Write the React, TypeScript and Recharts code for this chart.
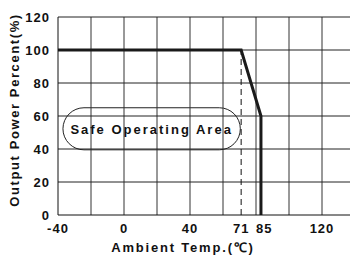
import {
  LineChart,
  Line,
  XAxis,
  YAxis,
  ReferenceLine,
  ReferenceArea,
  Label,
} from "recharts"

// derating curve: ambient temp (°C) vs output power (%)
const temps = [-40, 71, 83, 83]
const power = [100, 100, 60, 0]
const xTicks = [-40, 0, 40, 71, 85, 120]
const yTicks = [0, 20, 40, 60, 80, 100, 120]
const gridX = [-20, 0, 20, 40, 60, 80, 100, 120, 140]
const gridY = [20, 40, 60, 80, 100, 120]
const safeArea = { x1: -37, x2: 70.5, y1: 39.5, y2: 65 }
const safeLabel = "Safe Operating Area"
const xTitle = "Ambient Temp.(℃)"
const yTitle = "Output Power Percent(%)"

const data = temps.map((t, i) => ({ temp: t, power: power[i] }))

const font = "'Liberation Sans', Arial, sans-serif"

function XTick(props: any) {
  const { x, y, payload } = props
  return (
    <text x={x} y={y + 18} textAnchor="middle" fontFamily={font} fontWeight="bold" fontSize={13} letterSpacing={1} fill="#111">
      {payload.value}
    </text>
  )
}

function YTick(props: any) {
  const { x, y, payload } = props
  return (
    <text x={x - 8} y={y + 5} textAnchor="end" fontFamily={font} fontWeight="bold" fontSize={13} letterSpacing={1} fill="#111">
      {payload.value}
    </text>
  )
}

function SafeShape(props: any) {
  const { x, y, width, height } = props
  return (
    <g>
      <rect x={x} y={y} width={width} height={height} rx={height / 2} ry={height / 2} fill="#fff" stroke="#222" strokeWidth={1} />
      <text x={x + width / 2} y={y + height / 2 + 5} textAnchor="middle" fontFamily={font} fontWeight="bold" fontSize={13} letterSpacing={2} fill="#111">
        {safeLabel}
      </text>
    </g>
  )
}

export default function App() {
  return (
    <div style={{ position: "absolute", left: 0, top: 0, width: 350, height: 259, overflow: "hidden", background: "#fff" }}>
      <LineChart width={360} height={259} data={data} margin={{ top: 17, right: 5, bottom: 14, left: 0 }}>
        <XAxis
          dataKey="temp"
          type="number"
          domain={[-40, 140]}
          ticks={xTicks}
          tick={<XTick />}
          tickLine={false}
          tickSize={0}
          tickMargin={0}
          axisLine={{ stroke: "#111" }}
          interval={0}
          allowDataOverflow
        >
          <Label
            content={() => (
              <text x={183} y={252} textAnchor="middle" fontFamily={font} fontWeight="bold" fontSize={13} letterSpacing={1.8} fill="#111">
                {xTitle}
              </text>
            )}
          />
        </XAxis>
        <YAxis
          type="number"
          domain={[0, 120]}
          ticks={yTicks}
          width={58}
          tick={<YTick />}
          tickLine={false}
          tickSize={0}
          tickMargin={0}
          axisLine={{ stroke: "#111" }}
          interval={0}
        >
          <Label
            content={() => (
              <text x={19} y={110} transform="rotate(-90 19 110)" textAnchor="middle" fontFamily={font} fontWeight="bold" fontSize={13} letterSpacing={1.6} fill="#111">
                {yTitle}
              </text>
            )}
          />
        </YAxis>
        {gridX.map((v) => (
          <ReferenceLine key={"gx" + v} x={v} stroke="#333" strokeWidth={1} ifOverflow="extendDomain" />
        ))}
        {gridY.map((v) => (
          <ReferenceLine key={"gy" + v} y={v} stroke="#222" strokeWidth={1} />
        ))}
        <ReferenceArea {...safeArea} shape={<SafeShape />} />
        <ReferenceLine
          segment={[
            { x: 71, y: 0 },
            { x: 71, y: 100 },
          ]}
          stroke="#111"
          strokeWidth={1}
          strokeDasharray="6 4"
        />
        <Line
          type="linear"
          dataKey="power"
          stroke="#1a1a1a"
          strokeWidth={3}
          dot={false}
          isAnimationActive={false}
        />
      </LineChart>
    </div>
  )
}
